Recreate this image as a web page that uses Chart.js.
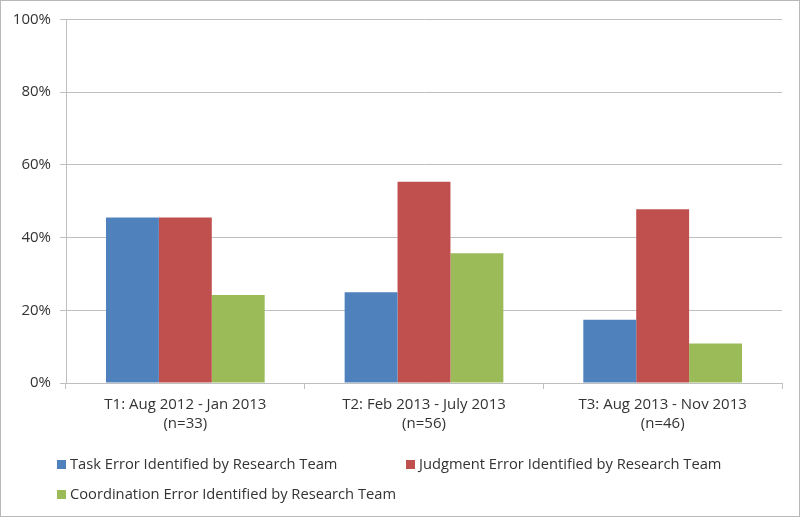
<!DOCTYPE html>
<html>
<head>
<meta charset="utf-8">
<script src="https://cdn.jsdelivr.net/npm/chart.js@4/dist/chart.umd.min.js"></script>
<style>
  html, body { margin: 0; padding: 0; background: #fff; }
  #wrap { position: relative; width: 800px; height: 517px; box-sizing: border-box; border: 1px solid #b8b8b8; }
  #chart { position: absolute; left: 0; top: 0; }
  .legend-item { position: absolute; font-family: "Open Sans", sans-serif; font-size: 14.7px; color: #333; white-space: nowrap; line-height: 18px; }
  .legend-item span { display: inline-block; width: 9px; height: 9px; margin-right: 4px; vertical-align: 0px; }
</style>
</head>
<body>
<div id="wrap">
  <canvas id="chart" width="798" height="515"></canvas>
  <div id="legend"></div>
</div>
<script>
const categories = [
    ['T1: Aug 2012 - Jan 2013', '(n=33)'],
    ['T2: Feb 2013 - July 2013', '(n=56)'],
    ['T3: Aug 2013 - Nov 2013', '(n=46)']
];
const taskError = [45.5, 25.0, 17.4];
const judgmentError = [45.5, 55.4, 47.8];
const coordinationError = [24.2, 35.7, 10.9];
const seriesNames = [
    'Task Error Identified by Research Team',
    'Judgment Error Identified by Research Team',
    'Coordination Error Identified by Research Team'
];
const seriesColors = ['#4F81BD', '#C0504D', '#9BBB59'];
const yTicks = [0, 20, 40, 60, 80, 100];

document.addEventListener('DOMContentLoaded', function () {
    const ctx = document.getElementById('chart').getContext('2d');
    const gridColor = '#bfbfbf';
    const font = { family: '"Open Sans", sans-serif', size: 15, lineHeight: 1.27 };

    const values = [taskError, judgmentError, coordinationError];

    new Chart(ctx, {
        type: 'bar',
        data: {
            labels: categories,
            datasets: values.map((v, i) => ({
                label: seriesNames[i],
                data: v,
                backgroundColor: seriesColors[i],
                borderWidth: 0,
                barPercentage: 1.0,
                categoryPercentage: 0.665
            }))
        },
        options: {
            responsive: false,
            animation: false,
            layout: { padding: { left: 0, top: 18, right: 17, bottom: 0 } },
            plugins: {
                legend: { display: false },
                tooltip: { enabled: false }
            },
            scales: {
                x: {
                    offset: true,
                    grid: { offset: true, drawOnChartArea: false, drawTicks: true, tickLength: 6, color: gridColor },
                    border: { color: gridColor },
                    ticks: { color: '#333', font: font, maxRotation: 0, padding: 6 },
                    afterFit: function (scale) { scale.height = 133; }
                },
                y: {
                    min: 0,
                    max: 100,
                    afterBuildTicks: function (scale) { scale.ticks = yTicks.map(v => ({ value: v })); },
                    grid: { color: gridColor, tickLength: 6 },
                    border: { color: gridColor },
                    ticks: { color: '#333', font: font, padding: 9, callback: v => v + '%' },
                    afterFit: function (scale) { scale.width = 65; }
                }
            }
        }
    });

    const legendPos = [[56, 453], [405, 453], [56, 483]];
    const legend = document.getElementById('legend');
    seriesNames.forEach((name, i) => {
        const el = document.createElement('div');
        el.className = 'legend-item';
        el.style.left = legendPos[i][0] + 'px';
        el.style.top = legendPos[i][1] + 'px';
        el.innerHTML = '<span style="background:' + seriesColors[i] + '"></span>' + name;
        legend.appendChild(el);
    });
});
</script>
</body>
</html>
